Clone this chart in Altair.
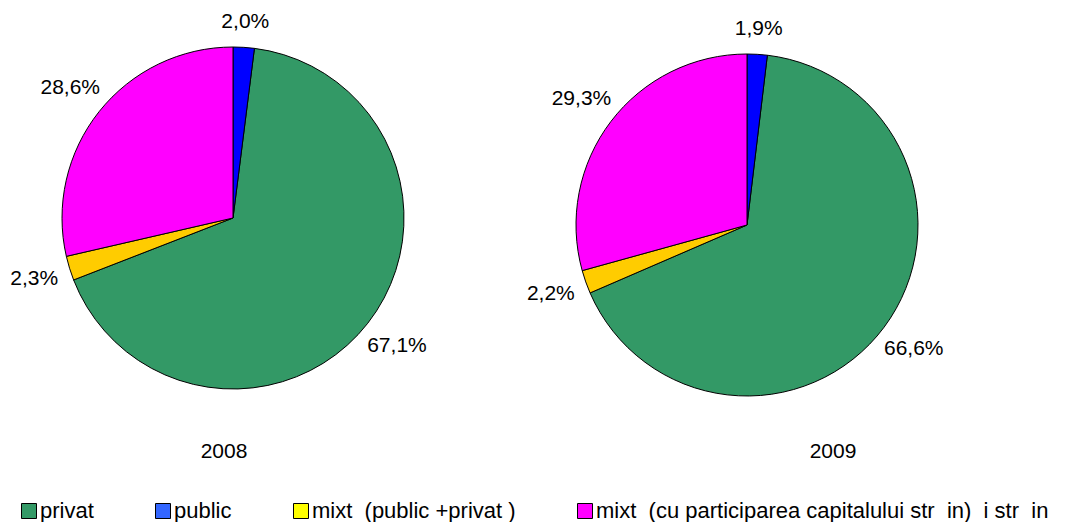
import altair as alt
import pandas as pd

NB = "\u00a0"
categories = ["privat", "public", "mixt (public +privat )",
              "mixt (cu participarea capitalului str in) i str in"]
legend_labels = ["privat", "public",
                 f"mixt{NB}{NB}(public{NB}+privat{NB})",
                 f"mixt{NB}{NB}(cu participarea capitalului str{NB}{NB}in){NB}{NB}i str{NB}{NB}in"]
v2008 = [67.1, 2.0, 2.3, 28.6]
v2009 = [66.6, 1.9, 2.2, 29.3]
pie_order = [1, 0, 2, 3]
years = ["2008", "2009"]
pie_colors = ["#339966", "#0000FF", "#FFCC00", "#FF00FF"]
legend_colors = ["#339966", "#3366FF", "#FFFF00", "#FF00FF"]

rows = []
for yr, vals in zip(years, [v2008, v2009]):
    for c, v, o in zip(legend_labels, vals, pie_order):
        rows.append({"year": yr, "cat": c, "value": v, "ord": o,
                     "label": f"{v:.1f}".replace(".", ",") + "%"})
df = pd.DataFrame(rows)

FONT = "Liberation Sans"
fill_scale = alt.Scale(domain=legend_labels, range=pie_colors)
legend_scale = alt.Scale(domain=legend_labels, range=legend_colors)
theta_scale = alt.Scale(domain=[0, 100])

centers = {"2008": (225, 210), "2009": (739, 217)}
year_pos = {"2008": (216, 444), "2009": (825, 444)}

layers = []
for yr in years:
    cx, cy = centers[yr]
    base = alt.Chart(df).transform_filter(alt.datum.year == yr)
    arc = base.mark_arc(outerRadius=171, stroke="black", strokeWidth=1).encode(
        theta=alt.Theta("value:Q", stack=True, scale=theta_scale),
        order=alt.Order("ord:Q", sort="ascending"),
        color=alt.Color("cat:N", scale=fill_scale, legend=None),
        x=alt.value(cx), y=alt.value(cy),
    )
    layers.append(arc)
    lab = base.transform_window(
        cum="sum(value)", sort=[alt.SortField("ord", order="ascending")],
        frame=[None, 0],
    ).transform_calculate(mid="datum.cum - datum.value / 2")
    for cond, r in [(alt.datum.ord == 0, 196), (alt.datum.ord != 0, 208)]:
        txt = lab.transform_filter(cond).mark_text(
            font=FONT, fontSize=21, color="black"
        ).encode(
            theta=alt.Theta("mid:Q", stack=None, scale=theta_scale),
            radius=alt.value(r),
            text="label:N",
            x=alt.value(cx), y=alt.value(cy),
        )
        layers.append(txt)
    yx, yy = year_pos[yr]
    ylab = alt.Chart(pd.DataFrame({"year": [yr]})).mark_text(
        font=FONT, fontSize=21, color="black"
    ).encode(text="year:N", x=alt.value(yx), y=alt.value(yy))
    layers.append(ylab)

legend_layer = alt.Chart(pd.DataFrame({"cat": legend_labels})).mark_point(
    shape="square", filled=True, size=0
).encode(
    fill=alt.Fill(
        "cat:N", scale=legend_scale,
        legend=alt.Legend(
            title=None, orient="none", direction="horizontal",
            legendX=10, legendY=492, columnPadding=58, padding=0,
            symbolType="square", symbolSize=225,
            symbolStrokeColor="black", symbolStrokeWidth=1,
            symbolOpacity=1,
            labelFont=FONT, labelFontSize=22, labelColor="black",
            labelOffset=0, labelLimit=600,
        ),
    ),
    x=alt.value(0), y=alt.value(0),
)
layers.append(legend_layer)

chart = alt.layer(*layers).resolve_scale(
    color="independent", fill="independent"
).properties(
    width=1064, height=514, padding=0, background="white",
    autosize=alt.AutoSizeParams(type="none"),
).configure_view(strokeWidth=0)

chart.save("out.html", embed_options={"renderer": "svg", "actions": False})
